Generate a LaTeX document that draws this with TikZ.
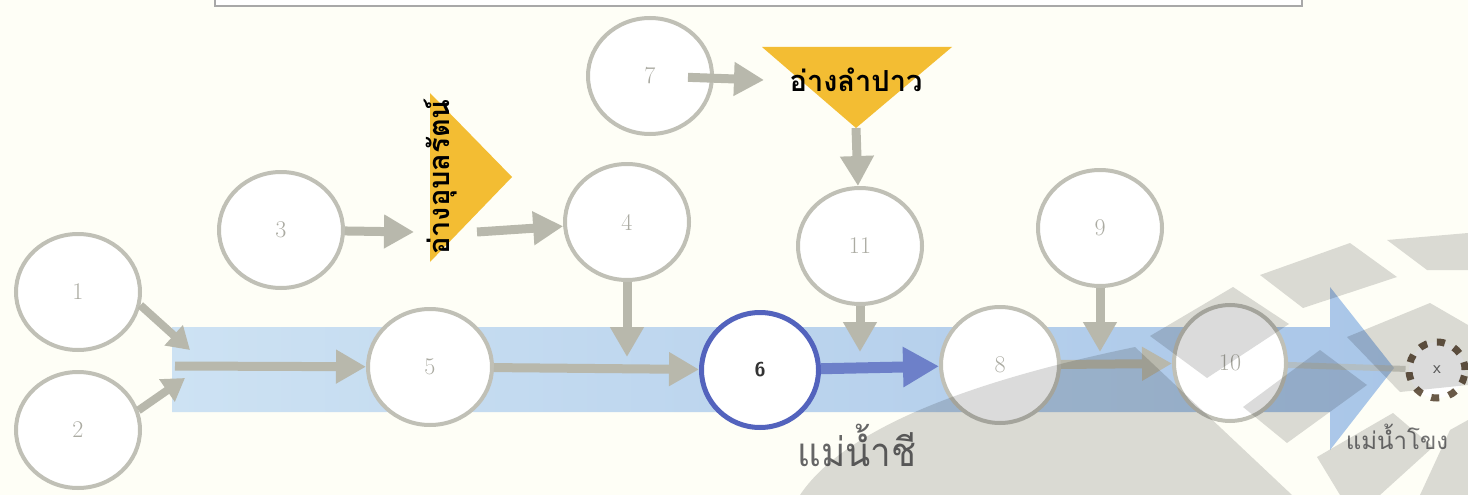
\documentclass[tikz,border=0pt]{standalone}
\usepackage{fontspec}
\newfontfamily\thaifont[Script=Thai]{Loma}
\usetikzlibrary{arrows.meta,shapes.geometric}
\definecolor{bg}{HTML}{FEFEF6}
\definecolor{ring}{HTML}{C0C0B6}
\definecolor{numc}{HTML}{ABABA2}
\definecolor{garr}{HTML}{B8B8AC}
\definecolor{blueRing}{HTML}{5363BD}
\definecolor{blueArr}{HTML}{6D80C9}
\definecolor{yel}{HTML}{F3BD33}
\definecolor{bandL}{HTML}{CDE2F3}
\definecolor{bandR}{HTML}{A9C6E8}
\definecolor{dotc}{HTML}{6A5A48}
\definecolor{boxline}{HTML}{A8A8A8}
\begin{document}
\begin{tikzpicture}[x=1pt,y=-1pt,
  circ/.style={ellipse, draw=ring, line width=4pt, fill=white, minimum width=124pt, minimum height=116pt, inner sep=0pt, font=\fontsize{24}{24}\selectfont, text=numc},
  garrow/.style={draw=garr, line width=9pt, -{Triangle[length=30pt,width=32pt]}},
  sgarrow/.style={draw=garr, line width=8pt, -{Triangle[length=22pt,width=26pt]}},
  blarrow/.style={draw=blueArr, line width=11pt, -{Triangle[length=36pt,width=38pt]}},
  tlabel/.style={font=\thaifont\bfseries\fontsize{29}{29}\selectfont, text=black, inner sep=0pt},
  wm/.style={fill=black, opacity=0.14}
]
\useasboundingbox (0,0) rectangle (1468,495);
\fill[bg] (0,0) rectangle (1468,495);
% top box
\node[draw=boxline, line width=1.8pt, fill=white, minimum width=1087pt, minimum height=30pt, inner sep=0pt] (topbox) at (758.5,-9) {};
% river band
\shade[left color=bandL, right color=bandR] (172,327) -- (1330,327) -- (1330,287) -- (1394,368) -- (1330,450) -- (1330,412) -- (172,412) -- cycle;
% triangles
\fill[yel] (430,93) -- (512,177) -- (430,262) -- cycle;
\fill[yel] (762,47) -- (952,47) -- (856,128) -- cycle;
\node[tlabel, rotate=90, font=\thaifont\bfseries\fontsize{29}{29}\selectfont] (l1) at (441,177) {อ่างอุบลรัตน์};
\node[tlabel] (l2) at (856,80) {อ่างลำปาว};
% circles
\node[circ] (c1) at (78,292) {1};
\node[circ] (c2) at (78,430) {2};
\node[circ] (c3) at (281,230) {3};
\node[circ] (c4) at (627,222) {4};
\node[circ] (c5) at (430,367) {5};
\node[circ, draw=blueRing, line width=5pt, minimum width=117pt, minimum height=115pt, text=black!80, font=\sffamily\bfseries\fontsize{20}{20}\selectfont] (c6) at (760,370) {6};
\node[circ] (c7) at (650,76) {7};
\node[circ] (c11) at (860,246) {11};
\node[circ, minimum width=118pt] (c8) at (1000,365) {8};
\node[circ] (c9) at (1100,228) {9};
\node[circ, minimum width=112pt] (c10) at (1230,363) {10};
\node[circle, draw=dotc, line width=7pt, dash pattern=on 8pt off 10pt, fill=white, minimum size=56pt, inner sep=0pt, font=\sffamily\fontsize{18}{18}\selectfont, text=black!60] (xn) at (1437,370) {x};
% free ends
\coordinate (t1w) at (414,232);
\coordinate (t1e) at (477,232);
\coordinate (t2w) at (764,80);
\coordinate (t2s) at (856,128);
\coordinate (in1) at (190,350);
\coordinate (in2) at (185,378);
\coordinate (bs) at (175,366);
\coordinate (b4) at (627,357);
\coordinate (b11) at (860,352);
\coordinate (b9) at (1100,352);
% connectors
\draw[sgarrow] (c1.-12) -- (in1);
\draw[sgarrow] (c2.18) -- (in2);
\draw[garrow] (bs) -- (c5);
\draw[garrow] (c3) -- (t1w);
\draw[garrow] (t1e) -- (c4);
\draw[garrow] (c4) -- (b4);
\draw[garrow] (c5) -- (c6);
\draw[garrow, shorten <=-26pt] (c7) -- (t2w);
\draw[garrow] (t2s) -- (c11);
\draw[garrow] (c11) -- (b11);
\draw[garrow] (c9) -- (b9);
\draw[blarrow] (c6) -- (c8);
\draw[garrow] (c8) -- (c10);
\draw[draw=garr, line width=6pt, opacity=0.6] (c10) -- (xn);
% river labels
\node[font=\thaifont\fontsize{40}{40}\selectfont, text=black!60, inner sep=0pt, xscale=0.92] (lchi) at (857,445) {แม่น้ำชี};
\node[font=\thaifont\fontsize{24}{24}\selectfont, text=black!55, inner sep=0pt] (lkhong) at (1397,437) {แม่น้ำโขง};
% watermark
\fill[wm] (800,495) .. controls (850,420) and (1000,375) .. (1135,347) -- (1292,495) -- cycle;
\fill[wm] (1150,336) -- (1233,287) -- (1289,324) -- (1207,378) -- cycle;
\fill[wm] (1260,275) -- (1350,243) -- (1397,277) -- (1303,308) -- cycle;
\fill[wm] (1387,240) -- (1468,233) -- (1468,270) -- (1427,270) -- cycle;
\fill[wm] (1347,337) -- (1430,303) -- (1468,325) -- (1468,385) -- (1400,392) -- cycle;
\fill[wm] (1243,407) -- (1320,350) -- (1367,385) -- (1287,443) -- cycle;
\fill[wm] (1317,457) -- (1393,413) -- (1433,447) -- (1380,495) -- (1340,495) -- cycle;
\fill[wm] (1450,430) -- (1468,420) -- (1468,495) -- (1420,495) -- cycle;
\end{tikzpicture}
\end{document}
